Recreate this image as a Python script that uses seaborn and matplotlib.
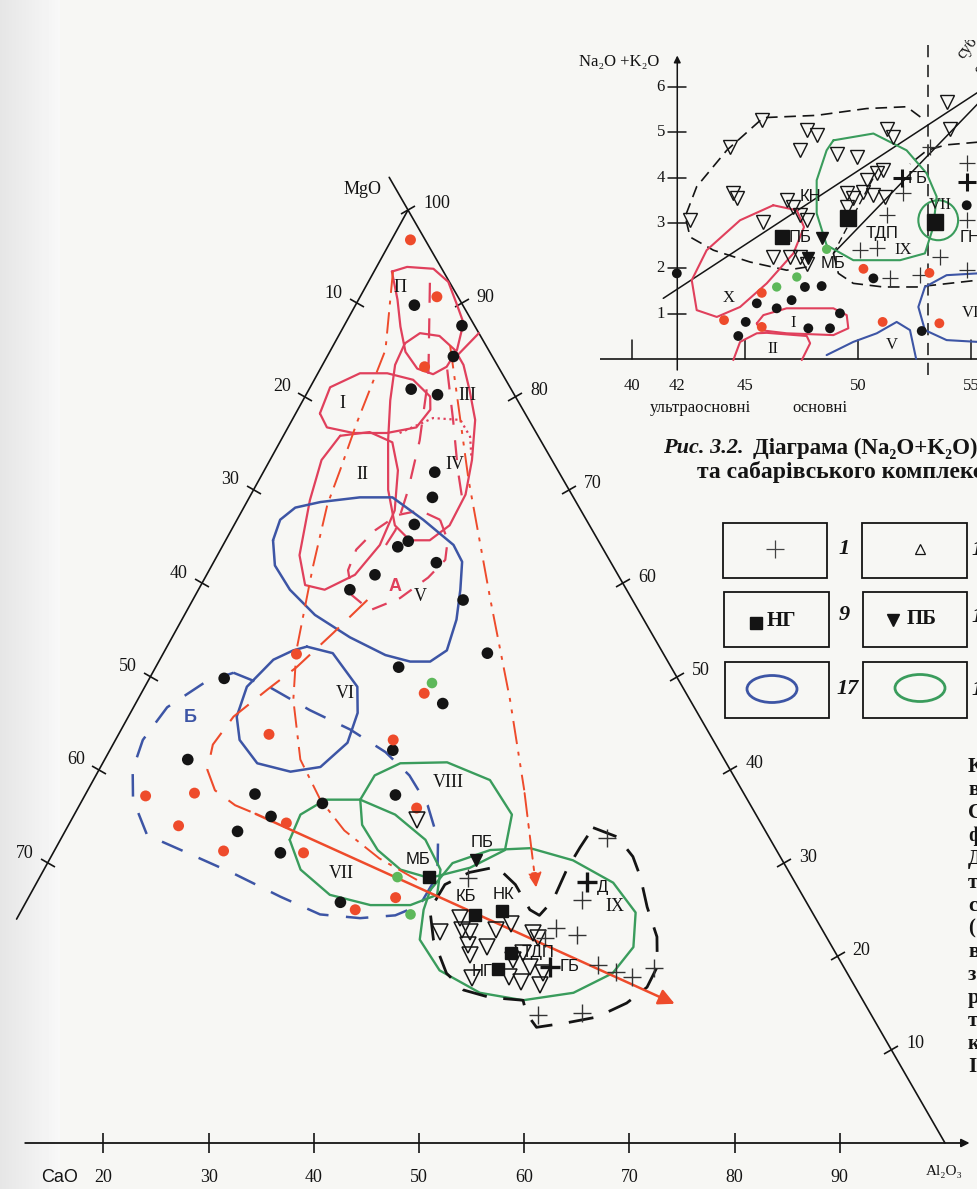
import numpy as np
import matplotlib
matplotlib.use("Agg")
import matplotlib.pyplot as plt
import matplotlib.transforms as mtransforms
from matplotlib.markers import MarkerStyle
from matplotlib.patches import Rectangle, Ellipse
import seaborn as sns

sns.set_style("white")
SERIF = ["Liberation Serif", "DejaVu Serif"]
SANS = ["Liberation Sans", "DejaVu Sans"]
plt.rcParams["font.family"] = SERIF

BG = "#f7f7f4"
RED = "#ee4b2b"
PINK = "#e0405c"
BLUE = "#3d55a5"
GREEN = "#3a9c5c"
GREEN_PT = "#5db85a"
INK = "#141414"

# ---------------- ternary MgO - CaO - Al2O3 (values: Al2O3 %, MgO %) ----------------
blk_al = [5.6, 11.2, 12.0, 9.7, 12.5, 16.3, 17.4, 17.1, 17.4, 16.7, 21.2, 16.0, 14.4, 25.7,
          30.8, 23.1, 29.2, 7.1, 26.9, 7.9, 16.1, 29.5, 23.0, 18.8, 16.4, 21.6, 29.9]
blk_mg = [89.8, 87.6, 84.3, 80.8, 80.2, 71.9, 69.2, 66.3, 64.5, 63.9, 62.2, 60.9, 59.3, 58.2,
          52.5, 51.0, 47.1, 49.8, 42.1, 41.1, 37.4, 37.3, 36.4, 35.0, 33.4, 31.1, 25.8]
red_al = [1.8, 7.3, 9.8, 12.7, 26.9, 14.3, 26.4, 5.8, 10.3, 32.2, 10.5, 20.6, 16.1, 23.8, 31.7, 34.9]
red_mg = [96.8, 90.7, 83.2, 52.4, 48.2, 43.8, 43.2, 37.2, 37.5, 35.9, 34.0, 34.3, 31.3, 31.1, 25.0, 26.3]
grn_al = [27.1, 34.0, 37.2]
grn_mg = [49.3, 28.5, 24.5]
tri_al = [32.9, 40.9, 42.1, 42.9, 43.8, 46.2, 47.2, 44.3, 46.2, 49.8, 45.0, 51.3, 52.9, 51.2,
          49.8, 46.4, 53.2, 49.9, 49.3, 50.5]
tri_mg = [34.6, 22.6, 24.1, 22.8, 22.6, 22.8, 23.5, 21.2, 21.0, 22.5, 20.1, 18.9, 18.2, 17.3,
          17.8, 17.7, 16.9, 20.4, 19.6, 22.0]
crs_al = [51.9, 52.8, 51.8, 54.1, 57.7, 59.8, 61.5, 63.1, 54.6, 58.7, 51.2, 40.8]
crs_mg = [32.7, 26.0, 23.0, 22.3, 19.1, 18.3, 17.8, 18.8, 13.7, 13.9, 22.0, 28.4]
bold_crs_al = [52.3, 53.2]
bold_crs_mg = [28.0, 18.9]
sq_al = [37.0, 43.4, 45.7, 48.8, 48.4]
sq_mg = [28.5, 24.4, 24.9, 20.4, 18.7]
down_al = [40.6]
down_mg = [30.3]

massif_names = ["МБ", "ПБ", "КБ", "НК", "ТДП", "НГ", "ГБ", "Д"]
massif_al = [35.0, 40.2, 41.5, 45.0, 51.3, 47.0, 55.1, 54.0]
massif_mg = [30.4, 32.2, 26.4, 26.6, 20.4, 18.4, 18.9, 27.4]
field_names = ["П", "I", "II", "III", "IV", "V", "VI", "VII", "VIII", "IX"]
field_al = [3.3, 3.9, 9.5, 15.4, 17.8, 21.4, 19.4, 28.5, 33.9, 56.2]
field_mg = [91.7, 79.3, 71.7, 80.1, 72.7, 58.6, 48.2, 28.9, 38.6, 25.3]

P_al = [1.7, 2.9, 5.5, 7.6, 9.5, 11.2, 12.0, 11.9, 11.0, 9.2, 7.2, 5.4, 3.7]
P_mg = [93.4, 93.9, 93.7, 92.3, 90.0, 87.9, 85.0, 83.2, 82.4, 83.0, 84.8, 87.5, 90.4]
III_al = [6.7, 7.6, 9.6, 11.8, 13.4, 15.3, 17.4, 19.2, 20.4, 20.5, 19.4, 17.5, 15.3, 12.8, 10.2, 8.3, 6.9]
III_mg = [85.7, 86.8, 86.5, 85.0, 83.4, 80.7, 77.5, 73.2, 69.5, 66.2, 64.6, 64.6, 66.2, 70.0, 75.3, 79.6, 83.4]
I_al = [2.3, 1.9, 4.0, 6.6, 9.4, 11.9, 12.6, 12.2, 9.7, 6.5, 3.7]
I_mg = [78.2, 81.0, 82.5, 82.5, 81.8, 80.0, 78.6, 76.7, 76.1, 76.1, 76.7]
II_al = [5.4, 8.0, 10.7, 12.7, 14.5, 14.9, 14.1, 12.0, 9.9, 7.8, 5.9, 4.9]
II_mg = [75.8, 76.2, 75.1, 72.1, 67.8, 64.1, 60.9, 59.3, 59.8, 63.0, 68.9, 73.2]
IV_al = [10.9, 13.3, 16.0, 17.8, 19.0]
IV_mg = [76.1, 77.7, 77.5, 75.7, 73.5]
A_al = [19.3, 21.1, 21.9, 21.2, 19.6, 17.4, 14.9, 13.2, 12.9, 13.7, 15.0, 16.9]
A_mg = [66.8, 64.6, 62.5, 60.6, 58.4, 57.1, 58.7, 61.4, 63.6, 65.7, 67.3, 67.8]
V_al = [4.5, 4.1, 4.9, 7.0, 10.5, 13.6, 17.7, 21.9, 23.6, 24.9, 26.1, 26.8, 25.8, 23.9, 21.2, 16.9, 12.4, 8.7, 6.0]
V_mg = [64.6, 66.8, 68.1, 68.7, 69.2, 69.2, 66.8, 64.1, 62.3, 59.3, 56.1, 52.8, 51.6, 51.6, 52.3, 54.2, 56.6, 59.3, 61.9]
VI_al = [13.3, 16.1, 20.2, 21.6, 22.2, 20.9, 18.3, 14.7, 11.8, 10.3, 9.7, 10.8, 12.2]
VI_mg = [53.2, 52.5, 48.9, 46.1, 42.9, 40.3, 39.8, 40.7, 43.2, 45.7, 48.9, 51.8, 52.8]
B_al = [7.7, 12.0, 16.9, 21.8, 26.3, 29.8, 33.1, 35.9, 37.7, 37.6, 35.8, 32.6, 28.6, 23.9, 18.2,
        12.5, 8.0, 4.8, 3.2, 2.6, 3.2, 5.5]
B_mg = [50.4, 48.8, 46.4, 44.3, 41.9, 39.4, 36.2, 32.5, 28.7, 25.5, 24.4, 24.1, 24.5, 26.4, 28.9,
        31.2, 33.0, 36.8, 40.0, 43.2, 46.7, 49.4]
VII_al = [21.8, 21.5, 23.1, 26.4, 30.5, 34.7, 37.7, 38.7, 36.7, 32.9, 28.5, 24.4]
VII_mg = [32.5, 35.2, 36.8, 36.8, 35.2, 32.5, 29.3, 26.6, 25.5, 25.5, 26.6, 29.3]
VIII_al = [26.4, 26.5, 28.3, 32.7, 37.7, 41.6, 42.8, 40.4, 37.1, 33.9, 30.7, 27.9]
VIII_mg = [36.8, 39.4, 40.7, 40.8, 38.9, 35.2, 31.4, 29.5, 28.4, 29.3, 31.4, 34.1]
IXg_al = [37.8, 38.5, 41.4, 45.1, 49.8, 54.8, 58.5, 60.1, 59.5, 56.8, 52.4, 47.9, 42.9, 39.4, 38.2]
IXg_mg = [27.1, 30.0, 31.4, 31.6, 30.3, 27.9, 24.7, 21.0, 18.2, 16.1, 15.3, 16.1, 18.5, 21.8, 25.0]
IXd_al = [50.0, 52.8, 55.3, 57.1, 59.3, 61.8, 63.4, 63.5, 62.4, 60.3, 57.8, 55.1, 53.4, 52.4, 49.1,
          46.2, 43.7, 40.7, 38.8, 38.9, 40.6, 42.9, 45.6, 48.3, 49.5, 50.0, 49.7, 49.8]
IXd_mg = [33.8, 32.8, 30.7, 28.5, 25.3, 22.1, 18.9, 16.7, 15.0, 13.5, 12.9, 12.4, 13.9, 15.3, 15.6,
          16.4, 18.2, 21.8, 25.0, 27.7, 29.0, 29.6, 27.7, 25.0, 24.4, 26.0, 29.3, 31.7]
trend_al = [16.6, 15.1, 13.4, 11.8, 10.0, 9.5, 10.3, 12.1, 14.8, 16.9]
trend_mg = [58.2, 54.7, 51.0, 48.6, 45.7, 42.7, 40.0, 37.8, 36.2, 35.4]
trend_end = (67.3, 14.8)
L1_al = [1.8, 5.2, 6.3, 7.2, 7.8, 9.7, 12.5, 14.8, 18.6, 22.6, 26.5, 31.3, 36.4]
L1_mg = [93.4, 85.0, 77.2, 72.1, 68.4, 61.7, 52.8, 47.5, 41.1, 36.8, 33.5, 30.5, 28.0]
L2_al = [5.9, 10.7, 13.2, 14.7, 15.6, 15.4]
L2_mg = [92.2, 82.1, 75.3, 70.0, 65.7, 63.0]
L3_al = [12.1, 15.3, 18.4, 20.4]
L3_mg = [82.9, 77.5, 72.1, 68.9]
R_al = [11.1, 19.9, 28.3, 35.4, 41.5, 47.9]
R_mg = [85.5, 71.1, 58.2, 47.5, 37.8, 27.1]
spur_al = [12.2, 13.2]
spur_mg = [84.1, 86.8]

left_ticks = [10, 20, 30, 40, 50, 60, 70]
right_ticks = [10, 20, 30, 40, 50, 60, 70, 80, 90, 100]
bottom_ticks = [20, 30, 40, 50, 60, 70, 80, 90]

# ---------------- TAS inset (SiO2 %, Na2O+K2O %) ----------------
tas_tri_si = [45.74, 47.73, 48.17, 47.43, 51.27, 51.56, 49.06, 49.94, 44.34, 42.57, 44.48, 44.63,
              45.81, 46.84, 47.11, 47.43, 47.73, 46.25, 46.99, 47.43, 47.73, 49.50, 49.79, 50.38,
              50.83, 51.12, 50.24, 50.68, 51.19, 49.50, 53.92, 54.07]
tas_tri_alk = [5.26, 5.04, 4.93, 4.60, 5.08, 4.90, 4.53, 4.46, 4.68, 3.06, 3.65, 3.54,
               3.02, 3.50, 3.36, 3.17, 3.06, 2.25, 2.25, 2.24, 2.09, 3.65, 3.54, 3.94,
               4.09, 4.16, 3.69, 3.61, 3.58, 3.36, 5.67, 5.08]
tas_crs_si = [53.19, 54.81, 52.0, 51.27, 50.09, 50.83, 53.63, 54.81, 52.74, 51.42, 54.81]
tas_crs_alk = [4.68, 4.31, 3.65, 3.17, 2.40, 2.44, 2.25, 1.96, 1.85, 1.78, 3.06]
tas_bcrs_si = [51.93, 54.81]
tas_bcrs_alk = [4.00, 3.91]
tas_sq_si = [46.62, 49.57, 53.41]
tas_sq_alk = [2.69, 3.10, 3.02]
tas_down_si = [48.39, 47.80]
tas_down_alk = [2.66, 2.22]
tas_blk_si = [41.98, 45.52, 46.40, 47.06, 47.65, 48.39, 49.20, 47.80, 48.76, 45.03, 44.70, 50.68, 52.82, 54.81]
tas_blk_alk = [1.89, 1.23, 1.12, 1.30, 1.59, 1.61, 1.01, 0.68, 0.68, 0.82, 0.51, 1.78, 0.62, 3.39]
tas_red_si = [45.74, 44.07, 45.74, 50.24, 51.09, 53.16, 53.60]
tas_red_alk = [1.46, 0.86, 0.71, 1.99, 0.82, 1.90, 0.79]
tas_grn_si = [46.40, 47.29, 48.61]
tas_grn_alk = [1.59, 1.81, 2.42]
tas_lab = ["КН", "ПБ", "ТДП", "IX", "МБ", "ГБ", "ГН", "VII", "X", "I", "II", "V", "VI"]
tas_lab_si = [47.9, 47.45, 51.05, 52.0, 48.9, 52.65, 54.96, 53.63, 44.26, 47.14, 46.25, 51.49, 54.96]
tas_lab_alk = [3.58, 2.69, 2.77, 2.40, 2.11, 3.98, 2.69, 3.39, 1.34, 0.79, 0.23, 0.31, 1.01]
tas_big_si = [47.73, 46.84, 45.22, 43.60, 42.57, 42.35, 42.86, 44.19, 45.81, 48.17, 50.38, 52.15, 52.96]
tas_big_alk = [2.03, 1.96, 2.14, 2.40, 2.69, 3.14, 3.80, 4.60, 5.32, 5.37, 5.52, 5.56, 5.26]
tas_ixd_si = [48.91, 49.13, 49.79, 51.12, 52.60, 53.33, 55.31]
tas_ixd_alk = [2.33, 1.89, 1.67, 1.59, 1.59, 1.63, 1.74]
tas_ixtop_si = [55.31, 53.9, 53.05, 52.3]
tas_ixtop_alk = [4.78, 4.72, 4.60, 4.30]
tas_X_si = [46.25, 47.29, 47.61, 47.14, 45.96, 44.78, 43.75, 42.86, 42.64, 43.30, 44.78]
tas_X_alk = [3.39, 3.28, 2.91, 2.33, 1.67, 1.15, 0.93, 1.08, 1.74, 2.40, 3.06]
tas_I_si = [45.52, 45.81, 46.84, 48.91, 49.50, 49.57, 48.91, 46.84, 45.66]
tas_I_alk = [0.79, 0.97, 1.12, 1.12, 0.97, 0.68, 0.53, 0.57, 0.64]
tas_II_si = [44.48, 44.78, 45.52, 45.96, 47.73, 47.88, 47.51]
tas_II_alk = [-0.02, 0.38, 0.57, 0.58, 0.51, 0.35, -0.02]
tas_V_si = [48.61, 49.79, 50.83, 51.71, 52.30, 52.57]
tas_V_alk = [0.09, 0.38, 0.57, 0.82, 0.64, 0.01]
tas_VI_si = [55.31, 53.92, 52.96, 52.67, 52.96, 53.92, 55.31]
tas_VI_alk = [1.89, 1.85, 1.59, 1.15, 0.64, 0.42, 0.38]
tas_IX_si = [48.91, 50.68, 52.15, 53.04, 53.48, 53.33, 52.96, 51.86, 49.79, 48.61, 48.17, 48.17, 48.61]
tas_IX_alk = [4.82, 4.97, 4.60, 4.09, 3.58, 2.91, 2.33, 2.18, 2.18, 2.51, 3.21, 3.94, 4.60]
tas_VII_c = (53.55, 3.06)
tas_line1 = ([41.38, 55.31], [1.34, 5.88])
tas_line2 = ([48.91, 55.31], [2.33, 5.63])
tas_line3 = ([48.91, 50.9], [2.33, 4.2])
tas_yticks = [1, 2, 3, 4, 5, 6]
tas_xticks = [40, 42, 45, 50, 55]
body_letters = ["К", "в", "С", "ф", "Д", "т", "с", "(", "в", "з", "р", "т", "к", "І"]

# ---------------- figure ----------------
fig = plt.figure(figsize=(9.78, 11.89), dpi=100, facecolor=BG)
ax = fig.add_axes([0, 0, 1, 1])
ax.set_facecolor(BG)
ax.set_xlim(0, 978)
ax.set_ylim(1189, 0)
ax.axis("off")

# faint scan shading at the left edge
shade = np.linspace(0.90, 0.97, 60)[None, :]
ax.imshow(shade, extent=(0, 60, 1189, 0), cmap="gray", vmin=0, vmax=1, aspect="auto", zorder=0)

# page pixel positions of the triangle corners
CAO = (-107.0, 1143.0)
MGO = (408.0, 210.0)
ALO = (945.0, 1143.0)
tri = mtransforms.Affine2D.from_values(
    (ALO[0] - CAO[0]) / 100, (ALO[1] - CAO[1]) / 100,
    (MGO[0] - CAO[0]) / 100, (MGO[1] - CAO[1]) / 100,
    CAO[0], CAO[1]) + ax.transData


def outline(axis, xs, ys, color, style="-", lw=1.6, close=True, tr=None, dashes=None, z=3):
    xs, ys = list(xs), list(ys)
    if close:
        xs, ys = xs + xs[:1], ys + ys[:1]
    kw = dict(color=color, lw=lw, solid_joinstyle="round", solid_capstyle="round",
              dash_capstyle="butt", zorder=z)
    if tr is not None:
        kw["transform"] = tr
    ln, = axis.plot(xs, ys, style, **kw)
    if dashes:
        ln.set_dashes(dashes)
    return ln


# triangle edges
ax.plot([0, 0], [24, 100], color=INK, lw=1.2, transform=tri, zorder=2)
ax.plot([-3.5, 100], [103.5, 0], color=INK, lw=1.2, transform=tri, zorder=2)
ax.annotate("", xy=(102.6, 0), xytext=(12.3, 0), xycoords=tri, textcoords=tri,
            arrowprops=dict(arrowstyle="-|>", color=INK, lw=1.3, mutation_scale=12), zorder=2)

# ticks perpendicular to the edges
p_ca, p_mg, p_al = [ax.transData.transform(p) for p in (CAO, MGO, ALO)]
e_left = p_ca - p_mg
e_right = p_al - p_mg
ang_left = np.degrees(np.arctan2(e_left[1], e_left[0])) + 90
ang_right = np.degrees(np.arctan2(e_right[1], e_right[0])) + 90
mk_left = MarkerStyle("_", transform=mtransforms.Affine2D().rotate_deg(ang_left))
mk_right = MarkerStyle("_", transform=mtransforms.Affine2D().rotate_deg(ang_right))
lt = np.array(left_ticks, float)
rt = np.array(right_ticks, float)
bt = np.array(bottom_ticks, float)
ax.plot(np.zeros_like(lt), 100 - lt, ls="none", marker=mk_left, ms=12, mew=1.2, color=INK, transform=tri)
ax.plot(100 - rt, rt, ls="none", marker=mk_right, ms=12, mew=1.2, color=INK, transform=tri)
ax.plot(bt, np.zeros_like(bt), ls="none", marker="|", ms=15, mew=1.2, color=INK, transform=tri)
for v in left_ticks:
    ax.annotate(str(v), xy=(0, 100 - v), xycoords=tri, xytext=(-14, 10), textcoords="offset pixels",
                ha="right", va="center", fontsize=13, color=INK)
for v in right_ticks:
    ax.annotate(str(v), xy=(100 - v, v), xycoords=tri, xytext=(15, 6), textcoords="offset pixels",
                ha="left", va="center", fontsize=13, color=INK)
for v in bottom_ticks:
    ax.annotate(str(v), xy=(v, 0), xycoords=tri, xytext=(0, -34), textcoords="offset pixels",
                ha="center", va="center", fontsize=13, color=INK)
ax.text(363, 190, "MgO", fontsize=13, ha="center", va="center", color=INK)
ax.text(60, 1177, "CaO", fontsize=13, ha="center", va="center", color=INK, family=SANS)
ax.text(944, 1172, "Al₂O₃", fontsize=11, ha="center", va="center", color=INK)

# fields
outline(ax, P_al, P_mg, PINK, tr=tri)
outline(ax, III_al, III_mg, PINK, tr=tri)
outline(ax, I_al, I_mg, PINK, tr=tri)
outline(ax, II_al, II_mg, PINK, tr=tri)
outline(ax, spur_al, spur_mg, PINK, close=False, tr=tri)
outline(ax, IV_al, IV_mg, PINK, close=False, tr=tri, style=":", lw=1.6)
outline(ax, A_al, A_mg, PINK, tr=tri, style="--", dashes=(7, 6))
outline(ax, L2_al, L2_mg, PINK, close=False, tr=tri, style="--", dashes=(9, 7))
outline(ax, L3_al, L3_mg, PINK, close=False, tr=tri, style="--", dashes=(9, 7))
outline(ax, V_al, V_mg, BLUE, tr=tri, lw=1.8)
outline(ax, VI_al, VI_mg, BLUE, tr=tri, lw=1.8)
outline(ax, B_al, B_mg, BLUE, tr=tri, lw=1.8, style="--", dashes=(9, 7))
outline(ax, VII_al, VII_mg, GREEN, tr=tri, lw=1.7)
outline(ax, VIII_al, VIII_mg, GREEN, tr=tri, lw=1.7)
outline(ax, IXg_al, IXg_mg, GREEN, tr=tri, lw=1.7)
outline(ax, IXd_al, IXd_mg, INK, tr=tri, lw=2.0, style="--", dashes=(9, 6))

# trend lines and arrows
outline(ax, L1_al, L1_mg, RED, close=False, tr=tri, lw=1.4, style="-.", dashes=(11, 4, 2, 4))
outline(ax, trend_al, trend_mg, RED, close=False, tr=tri, lw=1.5, style="--", dashes=(12, 7))
outline(ax, R_al[:-1], R_mg[:-1], RED, close=False, tr=tri, lw=1.4, style="-.", dashes=(12, 4, 2, 4, 2, 4))
ax.annotate("", xy=(R_al[-1], R_mg[-1]), xytext=(R_al[-2], R_mg[-2]), xycoords=tri, textcoords=tri,
            arrowprops=dict(arrowstyle="-|>", color=RED, lw=1.4, mutation_scale=22, ls=(0, (12, 4, 2, 4))),
            zorder=4)
ax.annotate("", xy=trend_end, xytext=(trend_al[-1], trend_mg[-1]), xycoords=tri, textcoords=tri,
            arrowprops=dict(arrowstyle="-|>", color=RED, lw=1.8, mutation_scale=24), zorder=4)

# points
sns.scatterplot(x=blk_al, y=blk_mg, ax=ax, color=INK, s=70, edgecolor="none", transform=tri, zorder=6, legend=False)
sns.scatterplot(x=red_al, y=red_mg, ax=ax, color=RED, s=62, edgecolor="none", transform=tri, zorder=6, legend=False)
sns.scatterplot(x=grn_al, y=grn_mg, ax=ax, color=GREEN_PT, s=58, edgecolor="none", transform=tri, zorder=6, legend=False)
ax.plot(tri_al, tri_mg, ls="none", marker="v", ms=11, mfc="none", mec=INK, mew=1.1, transform=tri, zorder=6)
ax.plot(crs_al, crs_mg, ls="none", marker="+", ms=13, mew=1.0, color="#333333", transform=tri, zorder=6)
ax.plot(bold_crs_al, bold_crs_mg, ls="none", marker="+", ms=15, mew=2.4, color=INK, transform=tri, zorder=6)
ax.plot(sq_al, sq_mg, ls="none", marker="s", ms=8, color=INK, transform=tri, zorder=7)
ax.plot(down_al, down_mg, ls="none", marker="v", ms=9, color=INK, transform=tri, zorder=7)

for name, a, m in zip(massif_names, massif_al, massif_mg):
    ax.text(a, m, name, transform=tri, fontsize=12, ha="center", va="center", family=SANS, color=INK, zorder=8)
for name, a, m in zip(field_names, field_al, field_mg):
    ax.text(a, m, name, transform=tri, fontsize=13, ha="center", va="center", color=INK, zorder=8)
ax.text(18.5, 59.6, "А", transform=tri, fontsize=13, ha="center", va="center", family=SANS,
        fontweight="bold", color=PINK, zorder=8)
ax.text(5.9, 45.6, "Б", transform=tri, fontsize=13, ha="center", va="center", family=SANS,
        fontweight="bold", color=BLUE, zorder=8)

# ---------------- legend boxes, caption, cut-off body text ----------------
boxes = [(723, 523, 104, 55), (862, 523, 105, 55), (724, 592, 105, 55),
         (863, 592, 104, 55), (725, 662, 104, 56), (863, 662, 104, 56)]
for bx, by, bw, bh in boxes:
    ax.add_patch(Rectangle((bx, by), bw, bh, fill=False, ec=INK, lw=1.3, zorder=5))
ax.plot([775], [549], ls="none", marker="+", ms=13, mew=0.9, color="#444444", zorder=6)
ax.plot([920], [549], ls="none", marker="^", ms=7, mfc="none", mec=INK, mew=0.9, zorder=6)
ax.plot([756], [623], ls="none", marker="s", ms=9, color=INK, zorder=6)
ax.text(767, 621, "НГ", fontsize=15, fontweight="bold", ha="left", va="center", color=INK)
ax.plot([893], [620], ls="none", marker="v", ms=9, color=INK, zorder=6)
ax.text(907, 619, "ПБ", fontsize=15, fontweight="bold", ha="left", va="center", color=INK)
ax.add_patch(Ellipse((772, 689), 50, 27, fill=False, ec=BLUE, lw=2.0, zorder=6))
ax.add_patch(Ellipse((920, 688), 50, 27, fill=False, ec=GREEN, lw=2.0, zorder=6))
for num, x, y in [("1", 844, 549), ("9", 844, 615), ("17", 848, 689)]:
    ax.text(x, y, num, fontsize=16, fontweight="bold", style="italic", ha="center",
            va="center", color=INK)
# numbers of the next legend column, cut by the page edge as in the scan
for y in (550, 617, 690):
    ax.text(971, y, "1", fontsize=16, fontweight="bold", style="italic", ha="left",
            va="center", color=INK, clip_on=True)

ax.text(663, 448, "Рис. 3.2.", fontsize=16, fontweight="bold", style="italic", ha="left", va="center", color=INK)
ax.text(753, 448, "Діаграма (Na₂O+K₂O)–SiO₂", fontsize=16.5, fontweight="bold", ha="left", va="center",
        color=INK, clip_on=True)
ax.text(697, 472, "та сабарівського комплексу", fontsize=17, fontweight="bold", ha="left", va="center",
        color=INK, clip_on=True)

for i, ch in enumerate(body_letters):
    ax.text(968, 767 + i * 23.1, ch, fontsize=15, fontweight="bold", ha="left", va="center",
            color=INK, clip_on=True)

# ---------------- TAS inset ----------------
ax2 = fig.add_axes([600 / 978, 1 - 420 / 1189, 378 / 978, 380 / 1189])
ax2.set_xlim(38.58, 55.31)
ax2.set_ylim(-1.34, 7.03)
ax2.axis("off")
ax2.patch.set_alpha(0)

ax2.plot([38.58, 55.31], [0, 0], color=INK, lw=1.2)
ax2.annotate("", xy=(42, 6.75), xytext=(42, -0.3),
             arrowprops=dict(arrowstyle="-|>", color=INK, lw=1.1, mutation_scale=10))
for v in tas_yticks:
    ax2.plot([41.6, 42.4], [v, v], color=INK, lw=1.1)
    ax2.text(41.45, v, str(v), ha="right", va="center", fontsize=12, color=INK)
for v in tas_xticks:
    if v != 42:
        ax2.plot([v, v], [0, 0.42], color=INK, lw=1.1)
    ax2.text(v, -0.6, str(v), ha="center", va="center", fontsize=12, color=INK, clip_on=True)
ax2.plot([53.1, 53.1], [-0.35, 7.0], color=INK, lw=1.1, ls="--", dashes=(8, 5))
ax2.text(43.0, -1.08, "ультраосновні", ha="center", va="center", fontsize=12, color=INK)
ax2.text(48.3, -1.08, "основні", ha="center", va="center", fontsize=12, color=INK)
ax2.text(41.2, 6.54, "Na₂O +K₂O", ha="right", va="center", fontsize=12, color=INK)
ax2.text(54.2, 6.55, "суб", rotation=52, ha="left", va="bottom", fontsize=12, color=INK, clip_on=True)
ax2.text(55.0, 6.2, "о", rotation=52, ha="left", va="bottom", fontsize=12, color=INK, clip_on=True)

ax2.plot(*tas_line1, color=INK, lw=1.1)
ax2.plot(*tas_line2, color=INK, lw=1.1)
ax2.plot(*tas_line3, color=INK, lw=1.0, ls="--", dashes=(5, 3))
outline(ax2, tas_big_si, tas_big_alk, INK, style="--", lw=1.2, close=False, dashes=(7, 4))
outline(ax2, tas_ixd_si, tas_ixd_alk, INK, style="--", lw=1.2, close=False, dashes=(7, 4))
outline(ax2, tas_ixtop_si, tas_ixtop_alk, INK, style="--", lw=1.2, close=False, dashes=(7, 4))
outline(ax2, tas_X_si, tas_X_alk, PINK, lw=1.5)
outline(ax2, tas_I_si, tas_I_alk, PINK, lw=1.5)
outline(ax2, tas_II_si, tas_II_alk, PINK, lw=1.5, close=False)
outline(ax2, tas_V_si, tas_V_alk, BLUE, lw=1.5, close=False)
outline(ax2, tas_VI_si, tas_VI_alk, BLUE, lw=1.5, close=False)
outline(ax2, tas_IX_si, tas_IX_alk, GREEN, lw=1.5)
ax2.add_patch(Ellipse(tas_VII_c, 1.76, 0.88, fill=False, ec=GREEN, lw=1.5, zorder=3))

ax2.plot(tas_tri_si, tas_tri_alk, ls="none", marker="v", ms=10, mfc="none", mec=INK, mew=1.0, zorder=5)
ax2.plot(tas_crs_si, tas_crs_alk, ls="none", marker="+", ms=11, mew=0.9, color="#333333", zorder=5)
ax2.plot(tas_bcrs_si, tas_bcrs_alk, ls="none", marker="+", ms=13, mew=2.2, color=INK, zorder=5)
ax2.plot(tas_sq_si[:1], tas_sq_alk[:1], ls="none", marker="s", ms=10, color=INK, zorder=6)
ax2.plot(tas_sq_si[1:], tas_sq_alk[1:], ls="none", marker="s", ms=12, color=INK, zorder=6)
ax2.plot(tas_down_si, tas_down_alk, ls="none", marker="v", ms=9, color=INK, zorder=6)
sns.scatterplot(x=tas_blk_si, y=tas_blk_alk, ax=ax2, color=INK, s=50, edgecolor="none", zorder=6, legend=False)
sns.scatterplot(x=tas_red_si, y=tas_red_alk, ax=ax2, color=RED, s=50, edgecolor="none", zorder=6, legend=False)
sns.scatterplot(x=tas_grn_si, y=tas_grn_alk, ax=ax2, color=GREEN_PT, s=45, edgecolor="none", zorder=6, legend=False)
for name, s, a in zip(tas_lab, tas_lab_si, tas_lab_alk):
    fam = SERIF if name in ("IX", "VII", "X", "I", "II", "V", "VI") else SANS
    ax2.text(s, a, name, ha="center", va="center", fontsize=12, family=fam, color=INK, zorder=7,
             clip_on=True)
ax2.set_xlim(38.58, 55.31)
ax2.set_ylim(-1.34, 7.03)
ax2.set_xlabel("")
ax2.set_ylabel("")

ax.set_xlim(0, 978)
ax.set_ylim(1189, 0)
fig.savefig("out.png", dpi=100, facecolor=BG)
